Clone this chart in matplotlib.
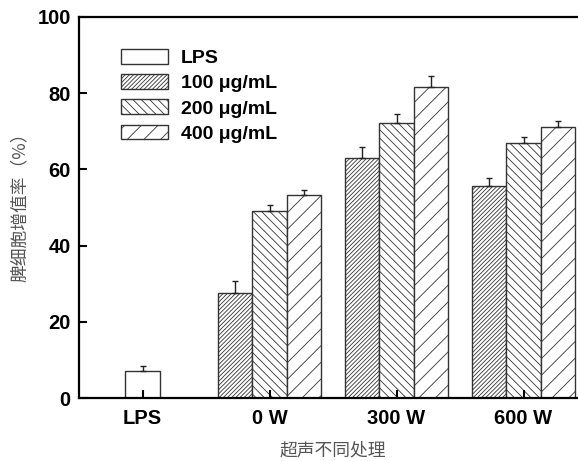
import matplotlib
matplotlib.use("Agg")
import matplotlib.pyplot as plt
import numpy as np

plt.rcParams['font.family'] = ['Liberation Sans', 'Noto Sans CJK SC', 'DejaVu Sans']
plt.rcParams['hatch.linewidth'] = 0.6

groups = ['LPS', '0 W', '300 W', '600 W']
series_labels = ['100 μg/mL', '200 μg/mL', '400 μg/mL']
lps_value = 7.2
lps_err = 1.3
values_100 = [27.5, 63.1, 55.6]
values_200 = [49.2, 72.1, 66.9]
values_400 = [53.3, 81.5, 71.2]
err_100 = [3.3, 2.7, 2.2]
err_200 = [1.4, 2.4, 1.5]
err_400 = [1.2, 3.1, 1.6]
y_ticks = [0, 20, 40, 60, 80, 100]

W, H = 578, 461
fig = plt.figure(figsize=(W / 100, H / 100), dpi=100)
ax = fig.add_axes([79 / W, 63 / H, (587 - 79) / W, (398 - 17) / H])

edge = '#333333'
bw = 0.268
x = np.arange(1, len(groups) + 1)
ekw = dict(ecolor='#222222', elinewidth=1.0, capthick=1.0)

h0 = ax.bar(x[0], lps_value, bw, color='white', edgecolor=edge, linewidth=1.0,
            yerr=[[0], [lps_err]], capsize=2.5, error_kw=ekw, label='LPS')
hatches = ['////////', '\\\\\\\\', '//']
series = [values_100, values_200, values_400]
errs = [err_100, err_200, err_400]
handles = [h0]
for i, (vals, er, hat, lab) in enumerate(zip(series, errs, hatches, series_labels)):
    pos = x[1:] + (i - 1) * bw
    h = ax.bar(pos, vals, bw, color='white', edgecolor=edge, linewidth=1.0, hatch=hat,
               yerr=[[0] * len(er), er], capsize=2.5, error_kw=ekw, label=lab)
    handles.append(h)

ax.set_xlim(0.5, 4.5)
ax.set_ylim(0, 100)
ax.set_yticks(y_ticks)
ax.set_xticks(x)
ax.set_xticklabels(groups, fontsize=14.5, fontweight='bold')
ax.set_yticklabels([str(t) for t in y_ticks], fontsize=14.5, fontweight='bold')
ax.tick_params(axis='both', direction='in', length=6, width=1.5)
ax.tick_params(axis='x', pad=8)
ax.tick_params(axis='y', pad=6)
for s in ax.spines.values():
    s.set_linewidth(1.6)

cjk = ['Noto Sans CJK SC', 'DejaVu Sans']
fig.text(20 / W, 1 - 203 / H, '脾细胞增值率（%）', fontsize=12.8, color='#555555',
         family=cjk, rotation=90, ha='center', va='center')
fig.text(333 / W, 1 - 450 / H, '超声不同处理', fontsize=12.8, color='#555555',
         family=cjk, ha='center', va='center')

leg = fig.legend(handles=handles, labels=['LPS'] + series_labels,
                 loc='upper left', bbox_to_anchor=(121 / W, 1 - 49 / H),
                 frameon=False, prop={'weight': 'bold', 'size': 14},
                 handlelength=2.42, handleheight=0.8, labelspacing=0.36,
                 handletextpad=0.67, borderpad=0, borderaxespad=0)

fig.savefig('out.png', dpi=100)
